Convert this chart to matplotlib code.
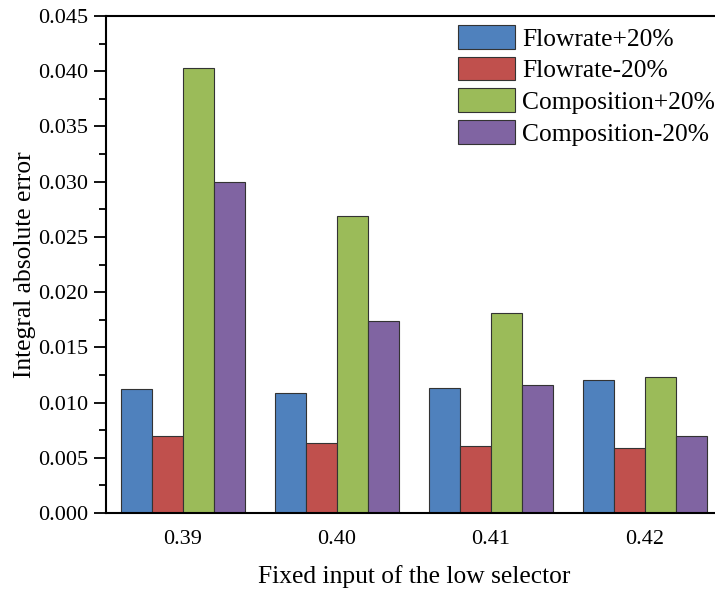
import matplotlib
matplotlib.use("Agg")
import matplotlib.pyplot as plt
import numpy as np

plt.rcParams['font.family'] = ['Liberation Serif', 'DejaVu Serif']

categories = ["0.39", "0.40", "0.41", "0.42"]
series_names = ["Flowrate+20%", "Flowrate-20%", "Composition+20%", "Composition-20%"]
flowrate_plus = [0.01123, 0.01084, 0.01132, 0.01204]
flowrate_minus = [0.0070, 0.00634, 0.00607, 0.00586]
composition_plus = [0.04026, 0.02692, 0.01811, 0.01234]
composition_minus = [0.02994, 0.01739, 0.01156, 0.0070]
colors = ["#4F81BD", "#C0504D", "#9BBB59", "#8064A2"]

fig = plt.figure(figsize=(7.15, 5.89), dpi=100)
ax = fig.add_axes([106/715, 1-513/589, 616/715, 497/589])

x = np.arange(len(categories))
width = 0.2
all_series = [flowrate_plus, flowrate_minus, composition_plus, composition_minus]
for i, (vals, name, c) in enumerate(zip(all_series, series_names, colors)):
    ax.bar(x + (i - 1.5) * width, vals, width, color=c, edgecolor="#333333",
           linewidth=0.8, label=name)

ax.set_xlim(-0.5, 3.5)
ax.set_ylim(0, 0.045)
ax.set_xticks(x)
ax.set_xticklabels(categories)
ax.set_yticks(np.arange(0, 0.0451, 0.005))
ax.set_yticklabels([f"{v:.3f}" for v in np.arange(0, 0.0451, 0.005)])
ax.set_yticks(np.arange(0.0025, 0.045, 0.005), minor=True)

ax.tick_params(axis='y', which='major', direction='out', length=9, width=1.3, labelsize=16, pad=4)
ax.tick_params(axis='y', which='minor', direction='out', length=5, width=1.3)
ax.tick_params(axis='x', which='both', length=0, labelsize=16, pad=12)

for side in ['left', 'bottom', 'top', 'right']:
    ax.spines[side].set_linewidth(1.5)

ax.set_xlabel("Fixed input of the low selector", fontsize=18.4, labelpad=12)
ax.set_ylabel("Integral absolute error", fontsize=18.4, labelpad=1)

ax.legend(loc='upper left', bbox_to_anchor=(458/715, 1-25/589),
          bbox_transform=fig.transFigure, frameon=False, fontsize=18.4,
          handlelength=2.23, handleheight=1.05, labelspacing=0.24,
          handletextpad=0.27, borderpad=0, borderaxespad=0)

fig.savefig("out.png", dpi=100)
